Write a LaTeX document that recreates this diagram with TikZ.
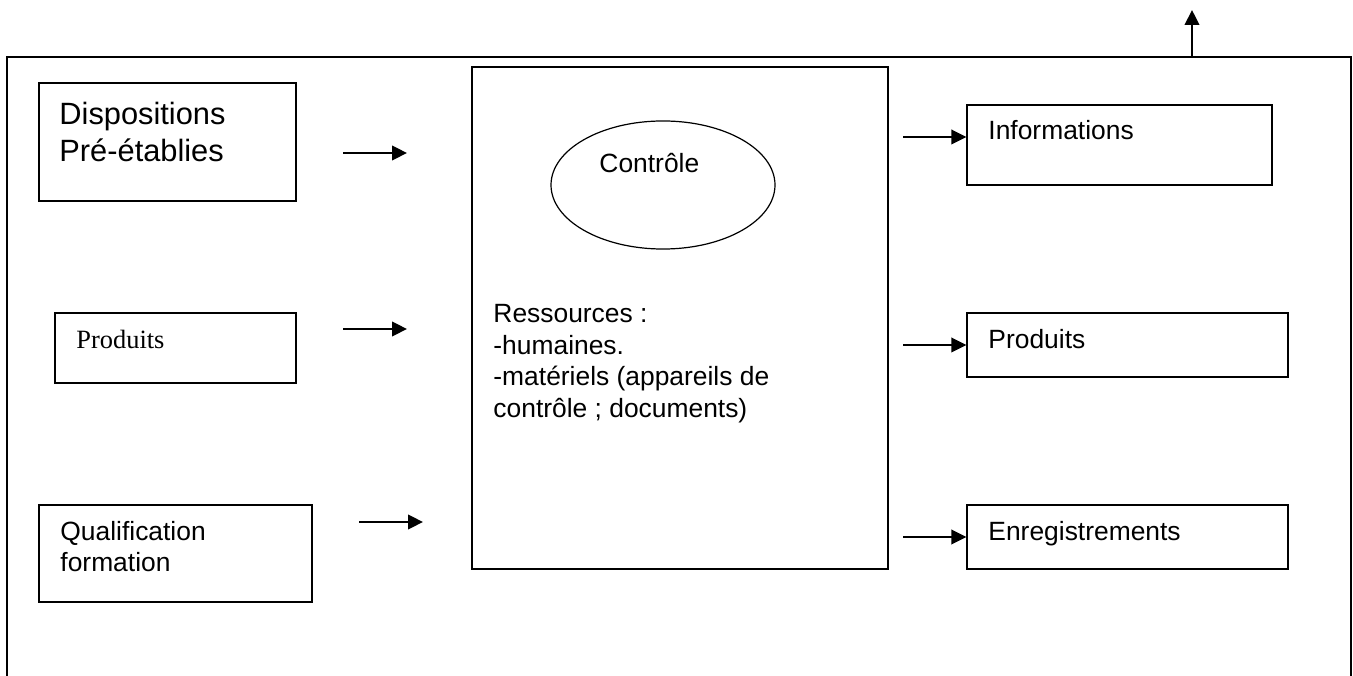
\documentclass[tikz,border=0pt]{standalone}
\usepackage{fontspec}
\setmainfont{Liberation Serif}
\newfontfamily\arialf{Liberation Sans}
\usetikzlibrary{arrows.meta,fit,shapes.geometric}
\begin{document}
\begin{tikzpicture}[x=0.4545pt,y=-0.4545pt,
  box/.style={draw,line width=0.55pt,inner sep=0pt},
  txt/.style={anchor=base west,inner sep=0pt,font=\arialf\fontsize{12pt}{13.8pt}\selectfont},
  arr/.style={line width=0.9pt,-{Triangle[length=6.8pt,width=6.6pt]}}]
\useasboundingbox (0,0) rectangle (1353,676);
% outer frame (open at bottom)
\draw[line width=0.55pt] (7,676) -- (7,57) -- (1351,57) -- (1351,676);
\coordinate (upS) at (1192,57);
\coordinate (upE) at (1192,10);
\draw[arr] (upS) -- (upE);
% left boxes
\node[box,fit={(39,83) (296,201)}] (disp) {};
\node[box,fit={(55,313) (296,383)}] (prodL) {};
\node[box,fit={(39,505) (312,602)}] (qual) {};
% centre box
\node[box,fit={(472,67) (888,569)}] (centre) {};
\node[draw,ellipse,line width=0.55pt,inner sep=0pt,
      minimum width=101.8pt,minimum height=58.2pt] (ctrl) at (663,185) {};
% right boxes
\node[box,fit={(967,105) (1272,185)}] (info) {};
\node[box,fit={(967,313) (1288,377)}] (prodR) {};
\node[box,fit={(967,505) (1288,569)}] (enreg) {};
% texts
\node[txt,font=\arialf\fontsize{14pt}{16.8pt}\selectfont] (t1) at (59,125) {Dispositions};
\node[txt,font=\arialf\fontsize{14pt}{16.8pt}\selectfont] (t2) at (59,162) {Pré-établies};
\node[anchor=base west,inner sep=0pt,font=\fontsize{12pt}{13.8pt}\selectfont] (t3) at (76,349) {Produits};
\node[txt] (t4) at (60,541) {Qualification};
\node[txt] (t5) at (60,572) {formation};
\node[txt] (t6) at (599,173) {Contrôle};
\node[txt] (r1) at (493,323) {Ressources :};
\node[txt] (r2) at (493,354.5) {-humaines.};
\node[txt] (r3) at (493,386) {-matériels (appareils de};
\node[txt] (r4) at (493,417.5) {contrôle ; documents)};
\node[txt] (t7) at (988,140) {Informations};
\node[txt] (t8) at (988,349) {Produits};
\node[txt] (t9) at (988,541) {Enregistrements};
% arrows
\coordinate (a1s) at (343,153); \coordinate (a1e) at (407,153);
\coordinate (a2s) at (343,329); \coordinate (a2e) at (407,329);
\coordinate (a3s) at (359,522); \coordinate (a3e) at (423,522);
\draw[arr] (a1s) -- (a1e);
\draw[arr] (a2s) -- (a2e);
\draw[arr] (a3s) -- (a3e);
\coordinate (b1s) at (903,137);
\coordinate (b2s) at (903,345);
\coordinate (b3s) at (903,537);
\draw[arr] (b1s) -- (b1s -| info.west);
\draw[arr] (b2s) -- (b2s -| prodR.west);
\draw[arr] (b3s) -- (b3s -| enreg.west);
\end{tikzpicture}
\end{document}
